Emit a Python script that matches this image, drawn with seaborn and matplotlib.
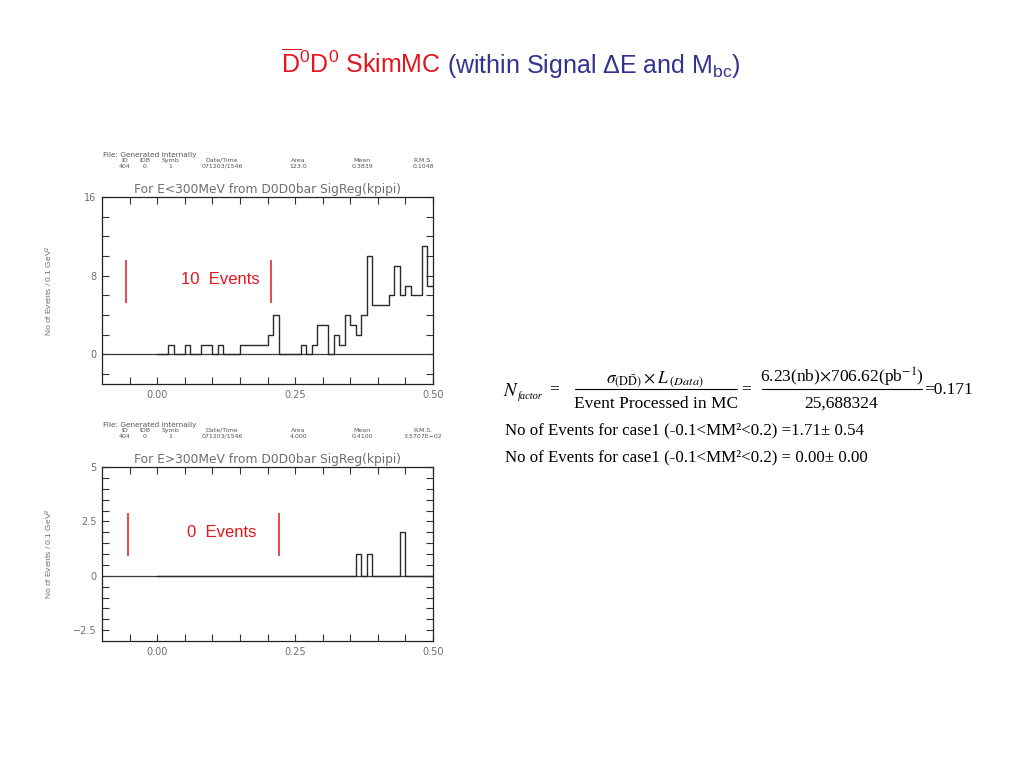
import numpy as np
import matplotlib
matplotlib.use('Agg')
import matplotlib.pyplot as plt
from matplotlib.lines import Line2D
import seaborn as sns

# histogram contents (bin centres, 0.01 wide bins from 0 to 0.5)
top_centres = [0.025, 0.055, 0.085, 0.095, 0.115, 0.155, 0.165, 0.175, 0.185, 0.195,
               0.205, 0.215, 0.265, 0.285, 0.295, 0.305, 0.325, 0.335, 0.345, 0.355,
               0.365, 0.375, 0.385, 0.395, 0.405, 0.415, 0.425, 0.435, 0.445, 0.455,
               0.465, 0.475, 0.485, 0.495]
top_counts = [1, 1, 1, 1, 1, 1, 1, 1, 1, 1,
              2, 4, 1, 1, 3, 3, 2, 1, 4, 3,
              2, 4, 10, 5, 5, 5, 6, 9, 6, 7,
              6, 6, 11, 7]
bot_centres = [0.365, 0.385, 0.445]
bot_counts = [1, 1, 2]

# signal window markers and labels
top_window = [-0.057, 0.207]
top_window_y = (5.2, 9.6)
bot_window = [-0.053, 0.22]
bot_window_y = (0.9, 2.9)
top_events = '10  Events'
bot_events = '0  Events'
top_events_xy = (0.114, 7.6)
bot_events_xy = (0.117, 2.0)

top_title = 'For E<300MeV from D0D0bar SigReg(kpipi)'
bot_title = 'For E>300MeV from D0D0bar SigReg(kpipi)'
header_cols = ['ID', 'IDB', 'Symb', 'Date/Time', 'Area', 'Mean', 'R.M.S.']
top_stats = ['404', '0', '1', '071203/1546', '123.0', '0.3839', '0.1048']
bot_stats = ['404', '0', '1', '071203/1546', '4.000', '0.4100', '3.5707E\u221202']
col_x = [125, 145, 170, 222, 298, 362, 423]

sns.set_style('ticks')
plt.rcParams['font.family'] = ['DejaVu Sans']
plt.rcParams['mathtext.fontset'] = 'custom'
plt.rcParams['mathtext.rm'] = 'Liberation Sans'
plt.rcParams['mathtext.it'] = 'Liberation Sans:italic'
plt.rcParams['mathtext.bf'] = 'Liberation Sans:bold'

W, H = 1024, 768
fig = plt.figure(figsize=(10.24, 7.68), dpi=100)
fig.patch.set_facecolor('white')


def fx(x):
    return x / W


def fy(y):
    return 1 - y / H


RED = '#e3161e'
NAVY = '#33338f'
GREY = '#6e6e6e'

ax1 = fig.add_axes([fx(102), fy(384), 331 / W, 187 / H])
ax2 = fig.add_axes([fx(102), fy(641), 331 / W, 174 / H])

xt = np.round(np.arange(-0.05, 0.501, 0.05), 2)
xl = ['0.00' if v == 0 else '0.25' if v == 0.25 else '0.50' if v == 0.5 else '' for v in xt]

panels = [
    (ax1, top_centres, top_counts, (-3, 16), np.arange(-2, 17, 2),
     {0: '0', 8: '8', 16: '16'}, top_title, top_window, top_window_y, top_events, top_events_xy),
    (ax2, bot_centres, bot_counts, (-3, 5), np.round(np.arange(-2.5, 5.01, 0.5), 1),
     {-2.5: '\u22122.5', 0: '0', 2.5: '2.5', 5: '5'}, bot_title, bot_window, bot_window_y, bot_events, bot_events_xy),
]

for ax, cen, cnt, ylim, yt, ylab, title, win, winy, evt, evt_xy in panels:
    ax.axhline(0, color='#3a3a3a', lw=0.9, zorder=1)
    sns.histplot(x=cen, weights=cnt, bins=50, binrange=(0, 0.5), element='step',
                 fill=False, color='#2a2a2a', linewidth=1.0, ax=ax)
    ax.set_xlim(-0.1, 0.5)
    ax.set_ylim(*ylim)
    ax.set_xticks(xt)
    ax.set_xticklabels(xl)
    ax.set_yticks(yt)
    ax.set_yticklabels([ylab[float(v)] if float(v) in ylab else '' for v in yt])
    ax.tick_params(direction='in', length=5, width=0.8, top=True, right=True,
                   labelsize=7, labelcolor=GREY, color='#333333', pad=4)
    for s in ax.spines.values():
        s.set_color('#222222')
        s.set_linewidth(0.9)
    ax.set_xlabel('')
    ax.set_ylabel('No of Events / 0.1 GeV$^2$', fontsize=6, color=GREY,
                  family='Liberation Sans')
    ax.yaxis.set_label_coords(-0.142, 0.5)
    ax.set_title(title, fontsize=8.8, color=GREY, pad=3)
    ax.vlines(win, winy[0], winy[1], color=RED, lw=1.1)
    ax.text(evt_xy[0], evt_xy[1], evt, color=RED, fontsize=12, ha='center', va='center',
            family='Liberation Sans')

# stats headers above each panel
for top, stats in [(197, top_stats), (467, bot_stats)]:
    fig.text(fx(103), fy(top - 42), 'File: Generated internally', fontsize=5.3,
             color='#555555', va='center')
    for x, c, v in zip(col_x, header_cols, stats):
        fig.text(fx(x), fy(top - 36.5), c, fontsize=4.5, color='#555555', ha='center', va='center')
        fig.text(fx(x), fy(top - 31), v, fontsize=4.5, color='#555555', ha='center', va='center')

# slide title
fig.text(fx(281), fy(73), r'$\overline{\mathrm{D}}^{0}\mathrm{D}^{0}$ SkimMC', color=RED,
         fontsize=18, family='Liberation Sans', va='baseline')
fig.text(fx(447), fy(73), r'(within Signal $\Delta$E and M$_{\mathrm{bc}}$)', color=NAVY,
         fontsize=18, family='Liberation Sans', va='baseline')

# normalisation formula
serif = dict(family='Liberation Serif', math_fontfamily='stix', color='black', va='baseline')
fig.text(fx(503), fy(396), r'$N$', fontsize=13.5, **serif)
fig.text(fx(518), fy(399), 'factor', fontsize=7.5, style='italic', **serif)
fig.text(fx(549), fy(393), '=', fontsize=12.5, **serif)
fig.text(fx(655), fy(383), r'$\sigma_{(\mathrm{D\bar{D}})}\times L_{\ (Data)}$', fontsize=12.5,
         ha='center', **serif)
fig.text(fx(656), fy(408), 'Event Processed in MC', fontsize=12.5, ha='center', **serif)
fig.text(fx(741), fy(393), '=', fontsize=12.5, **serif)
fig.text(fx(842), fy(383), r'6.23(nb)$\times$706.62(pb$^{\mathrm{-1}}$)', fontsize=12.5,
         ha='center', **serif)
fig.text(fx(841), fy(408), '25,688324', fontsize=12.5, ha='center', **serif)
fig.text(fx(924), fy(394), '=0.171', fontsize=12.5, **serif)
for x0, x1 in [(575, 737), (762, 922)]:
    fig.add_artist(Line2D([fx(x0), fx(x1)], [fy(389), fy(389)], color='black', lw=0.8,
                          transform=fig.transFigure))

fig.text(fx(505), fy(434), 'No of Events for case1 (-0.1<MM\u00b2<0.2) =1.71\u00b1 0.54',
         fontsize=12.2, **serif)
fig.text(fx(505), fy(461), 'No of Events for case1 (-0.1<MM\u00b2<0.2) = 0.00\u00b1 0.00',
         fontsize=12.2, **serif)

fig.savefig('out.png', dpi=100)
